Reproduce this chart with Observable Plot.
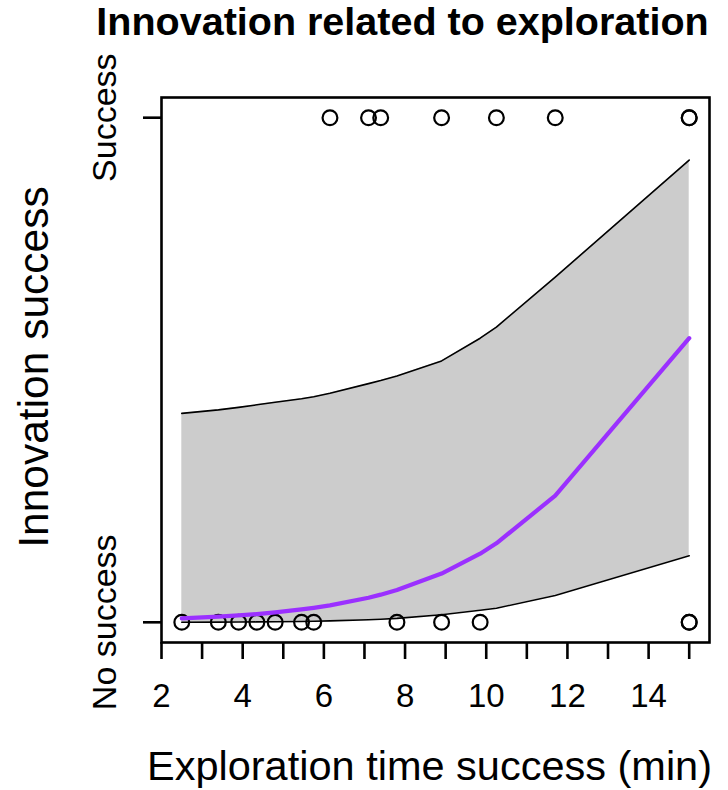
<!DOCTYPE html>
<html>
<head>
<meta charset="utf-8">
<script src="https://cdn.jsdelivr.net/npm/d3@7"></script>
<script src="https://cdn.jsdelivr.net/npm/@observablehq/plot@0.6"></script>
<style>
  html, body { margin: 0; padding: 0; background: #fff; }
  #chart svg { display: block; }
</style>
</head>
<body>
<div id="chart"></div>
<script>
// Observed outcomes (exploration time in minutes)
const successX = [6.15, 7.1, 7.4, 8.9, 10.25, 11.7, 15, 15];
const failX = [2.5, 3.4, 3.9, 4.35, 4.8, 5.45, 5.75, 7.8, 8.9, 9.85, 15, 15];

// Fitted probability and confidence band, read at the sorted data x values
const fitX     = [2.5,    3.4,    3.9,    4.35,   4.8,    5.45,   5.75,   6.15,   7.1,    7.4,    7.8,    8.9,    9.85,   10.25,  11.7,   15];
const fitMean  = [0.0078, 0.0112, 0.0137, 0.0164, 0.0197, 0.0255, 0.0287, 0.0336, 0.0488, 0.0548, 0.0639, 0.0966, 0.136,  0.1565, 0.251,  0.563];
const fitLower = [0.0002, 0.0004, 0.0006, 0.0008, 0.0011, 0.0017, 0.0021, 0.0028, 0.0050, 0.0060, 0.0078, 0.0150, 0.0240, 0.0280, 0.053,  0.132];
const fitUpper = [0.414,  0.421,  0.426,  0.431,  0.436,  0.443,  0.447,  0.454,  0.473,  0.479,  0.488,  0.518,  0.563,  0.585,  0.684,  0.916];

const xTicks = [2, 3, 4, 5, 6, 7, 8, 9, 10, 11, 12, 13, 14, 15];
const xTickLabels = [2, 4, 6, 8, 10, 12, 14];
const yTicks = [0, 1];
const yTickLabels = ["No success", "Success"];

const title = "Innovation related to exploration";
const xLabel = "Exploration time success (min)";
const yLabel = "Innovation success";

const fit = fitX.map((x, i) => ({x, mean: fitMean[i], lo: fitLower[i], hi: fitUpper[i]}));
const pts = [
  ...failX.map(x => ({x, y: 0})),
  ...successX.map(x => ({x, y: 1}))
];

const FONT = "'Liberation Sans', Arial, sans-serif";

const chart = Plot.plot({
  width: 728,
  height: 790,
  marginTop: 97,
  marginBottom: 148,
  marginLeft: 161,
  marginRight: 19,
  style: {fontFamily: FONT, background: "#fff", color: "#000"},
  x: {domain: [2, 15.5]},
  y: {domain: [-0.04, 1.04]},
  marks: [
    Plot.areaY(fit, {x: "x", y1: "lo", y2: "hi", fill: "#CCCCCC", curve: "linear"}),
    Plot.line(fit, {x: "x", y: "hi", stroke: "#000", strokeWidth: 1.6}),
    Plot.line(fit, {x: "x", y: "lo", stroke: "#000", strokeWidth: 1.6}),
    Plot.dot(pts, {x: "x", y: "y", r: 7.4, stroke: "#000", strokeWidth: 2.2, fill: "none"}),
    Plot.line(fit, {x: "x", y: "mean", stroke: "#9B30FF", strokeWidth: 4.2}),
    Plot.frame({stroke: "#000", strokeWidth: 2.6}),
    Plot.axisX({
      ticks: xTicks,
      tickSize: 17,
      tickPadding: 24,
      strokeWidth: 2.6,
      fontSize: 33,
      tickFormat: d => xTickLabels.includes(d) ? String(d) : "",
      label: null
    }),
    Plot.axisY({
      ticks: yTicks,
      tickSize: 18,
      tickPadding: 28,
      tickRotate: -90,
      strokeWidth: 2.6,
      fontSize: 34,
      tickFormat: d => yTickLabels[d],
      label: null
    }),
    Plot.text([title], {
      frameAnchor: "top", dy: -75, dx: -33, text: d => d,
      fontSize: 39.5, fontWeight: "bold", textAnchor: "middle", lineAnchor: "middle", fill: "#000"
    }),
    Plot.text([xLabel], {
      frameAnchor: "bottom", dy: 124, dx: -6, text: d => d,
      fontSize: 41.5, textAnchor: "middle", lineAnchor: "middle", fill: "#000"
    }),
    Plot.text([yLabel], {
      frameAnchor: "left", dx: -127, dy: -3, rotate: -90, text: d => d,
      fontSize: 42.5, textAnchor: "middle", lineAnchor: "middle", fill: "#000"
    })
  ]
});

document.getElementById("chart").appendChild(chart);
</script>
</body>
</html>
